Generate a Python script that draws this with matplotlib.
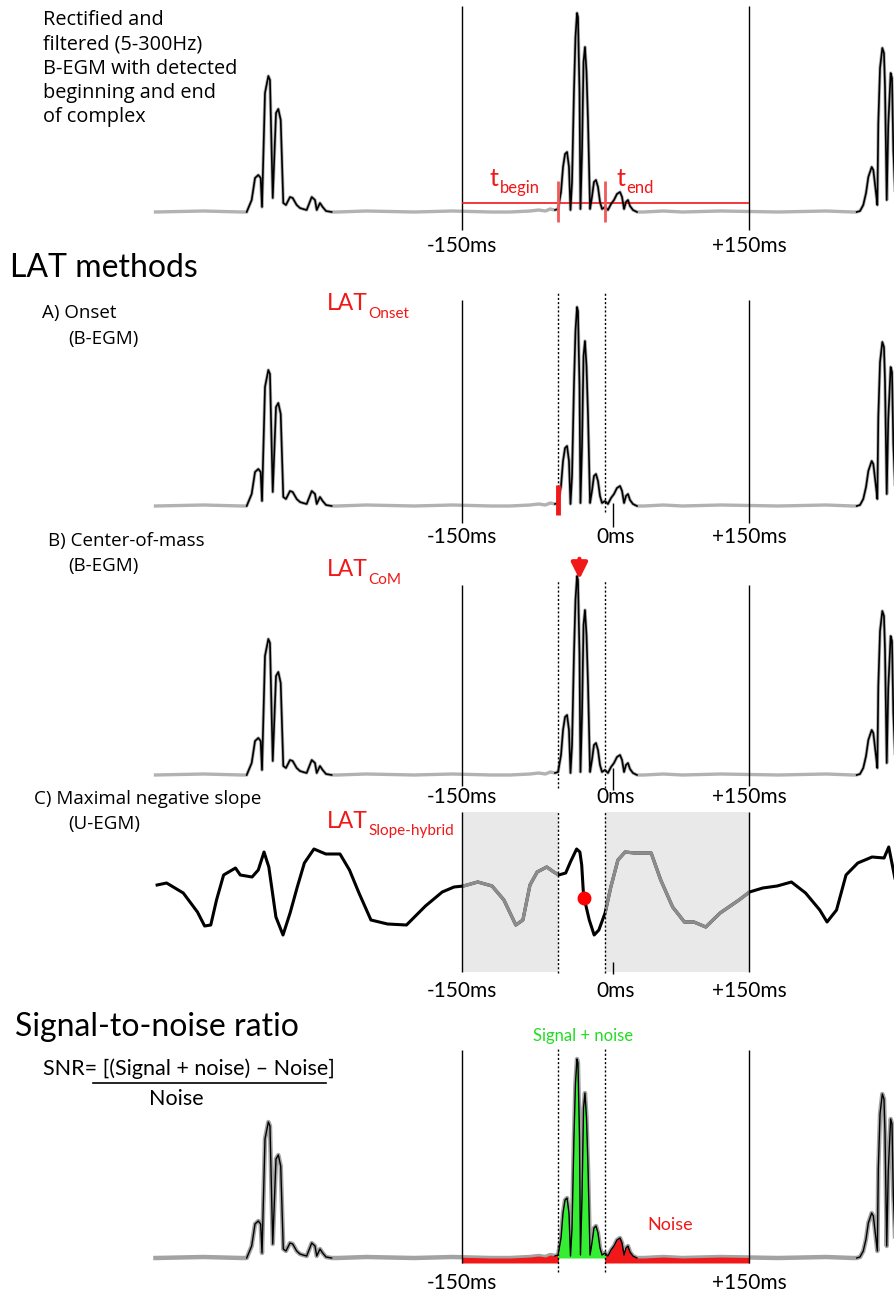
""" LAT methods schematic: B-EGM / U-EGM annotation """
import numpy as np
import matplotlib.pyplot as plt
from matplotlib.lines import Line2D
from matplotlib.patches import Rectangle

W, H = 895, 1297
ZERO_PX = 605.75      # pixel column of t = 0 ms
PX_PER_MS = 0.958

SANS = 'Open Sans'
CAL = 'Lato'
RED = '#f01818'
GREEN = '#22dd22'

# rectified + filtered B-EGM, time in ms, amplitude in a.u.
left_t = [-374.8, -369.6, -366.1, -362.7, -360.2, -358.8, -355.7, -352.2, -350.5,
          -347.6, -344.2, -341.8, -339.3, -336.6, -333.8, -329.6, -326.8, -322.6,
          -319.2, -316.0, -312.2, -306.9, -303.5, -301.7, -298.3, -295.5, -292.0, -286.1]
left_a = [0, 12, 34, 37, 34, 5, 119, 136, 132, 14, 99, 103, 92, 9, 7, 15, 14, 7,
          4, 3, 2, 15, 12, 2, 9, 5, 1, 0]

mid_t = [-53.0, -49.8, -46.7, -44.6, -42.5, -40.4, -38.4, -36.8, -35.2, -33.2, -31.6,
         -30.0, -29.0, -27.4, -26.4, -24.8, -23.2, -21.7, -20.1, -18.5, -16.4, -14.4,
         -12.3, -10.2, -8.1, -6.0, -3.9, -0.8, 2.3, 5.5, 8.6, 11.7, 14.9, 17.0, 19.1,
         21.1, 23.2, 25.3, 28.4, 32.6]
mid_a = [2, 3, 20, 45, 58, 60, 45, 2, 30, 120, 175, 199, 195, 120, 3, 60, 150, 165,
         140, 90, 3, 15, 30, 32, 25, 10, 3, 5, 2, 8, 12, 18, 20, 15, 3, 10, 12, 6, 2, 0]

right_t = [261.9, 265.4, 268.8, 271.7, 274.1, 277.6, 279.3, 282.1, 283.5, 284.5,
           286.3, 288.7, 290.4, 291.5, 293.3, 294.9, 297.4, 298.8, 300.2, 302.0]
right_a = [0, 1, 7, 19, 35, 45, 42, 19, 7, 89, 144, 164, 159, 125, 12, 87, 139,
           134, 62, 20]

quiet_t = [-470, -420, -380, -280, -250, -200, -160, -120, -100, -79, -70, -63, -58,
           40, 60, 80, 120, 180, 230, 258]
quiet_a = [0, 1, 0, 0, 1, 0, 1, 0, 0, 1, 2, 1, 3, 0, 1, 0, 1, 0, 1, 0]

# unipolar EGM, time in ms, voltage in a.u.
uegm_t = [-468.3, -458.4, -441.0, -426.2, -418.7, -412.3, -406.3, -398.9, -386.5,
          -381.5, -369.2, -362.7, -356.7, -351.7, -344.3, -336.9, -329.5, -322.0,
          -314.6, -304.6, -292.2, -277.4, -267.5, -257.6, -245.1, -227.8, -208.0,
          -188.2, -170.7, -158.4, -148.5, -133.6, -118.7, -106.3, -93.9, -86.5,
          -79.1, -71.6, -61.6, -54.2, -49.2, -41.8, -36.9, -30.4, -27.0, -25.1,
          -23.2, -19.9, -17.2, -12.1, -7.2, -0.7, 5.3, 12.7, 20.2, 30.1, 47.4, 57.4,
          69.8, 82.1, 92.0, 104.4, 119.4, 139.1, 150.1, 163.9, 178.9, 193.8, 208.6,
          223.4, 231.0, 240.9, 250.8, 263.1, 278.0, 290.5, 295.4, 301.8]
uegm_v = [2, 4, -6, -25, -39, -38, -13, 12, 19, 12, 10, 17, 35, 20, -30, -48, -26,
          0, 24, 38, 33, 33, 17, -6, -33, -37, -38, -19, -5, 0, 1, 5, 1, -13, -38,
          -33, 2, 15, 20, 15, 12, 14, 25, 38, 35, 22, -8, -22, -33, -48, -43, -26,
          0, 27, 35, 34, 34, 7, -20, -35, -35, -40, -26, -13, -5, -1, 1, 5, -6,
          -23, -35, -23, 12, 24, 30, 29, 40, 9]

window = (-150, 150)      # LAT search window
complex_on_off = (-49.5, -1.0)   # detected beginning / end of complex
zero_tick = 7.5
threshold = 9
com_t = -27.5
slope_t = -22.5

trace_t = np.array(quiet_t + left_t + mid_t + right_t)
trace_a = np.array(quiet_a + left_a + mid_a + right_a, dtype=float)
order = np.argsort(trace_t)
trace_t, trace_a = trace_t[order], trace_a[order]

fig = plt.figure(figsize=(W / 100, H / 100), dpi=100)

canvas = fig.add_axes([0, 0, 1, 1], zorder=5)
canvas.set_xlim(0, W)
canvas.set_ylim(H, 0)
canvas.axis('off')
canvas.patch.set_alpha(0)


def panel(top, bottom, base, scale=1.0):
    ax = fig.add_axes([0, 1 - bottom / H, 1, (bottom - top) / H])
    ax.set_xlim(-ZERO_PX / PX_PER_MS, (W - ZERO_PX) / PX_PER_MS)
    ax.set_ylim((base - bottom) / scale, (base - top) / scale)
    ax.axis('off')
    return ax, (lambda y: (base - y) / scale)


def draw_begm(ax, gray='#b2b2b2', lw=2.4):
    ax.plot(trace_t, trace_a, color=gray, lw=lw, zorder=2)
    for t, a in ((left_t, left_a), (mid_t, mid_a), (right_t, right_a)):
        ax.plot(t, a, color='black', lw=1.2, zorder=4)


def ms_labels(ax, lvl, y, zero=True):
    labels = [(window[0], '-150ms'), (window[1], '+150ms')]
    if zero:
        labels.append((zero_tick + 3, '0ms'))
    for t, s in labels:
        ax.text(t, lvl(y), s, ha='center', va='center', fontsize=15, family=CAL)


def sub_label(x, y, main, sub, color, size=16.5, subsize=11):
    t1 = canvas.text(x, y, main, color=color, fontsize=size, family=CAL, va='center')
    canvas.annotate(sub, xy=(1, 0), xycoords=t1, xytext=(0.5, -4.5),
                    textcoords='offset points', color=color, fontsize=subsize,
                    family=CAL, va='bottom')


def put(x, y, s, **kw):
    kw.setdefault('family', SANS)
    kw.setdefault('fontsize', 13.5)
    kw.setdefault('va', 'center')
    canvas.text(x, y, s, **kw)


# --- rectified B-EGM with detected begin/end
for i, line in enumerate(['Rectified and', 'filtered (5-300Hz)', 'B-EGM with detected',
                          'beginning and end', 'of complex']):
    put(43, 20 + 24.3 * i, line, fontsize=14.3)

ax, lvl = panel(0, 262, 212)
draw_begm(ax)
ax.vlines(window, lvl(230), lvl(6), color='black', lw=1)
ax.hlines(threshold, *window, color=RED, lw=1.2, zorder=3)
ax.vlines(complex_on_off, lvl(222), lvl(181), color='#f05a5a', lw=2, zorder=5)
ms_labels(ax, lvl, 246, zero=False)
sub_label(490, 178, 't', 'begin', RED, size=18, subsize=12)
sub_label(617, 178, 't', 'end', RED, size=18, subsize=12)

put(10, 268, 'LAT methods', family=CAL, fontsize=23)

# --- A) onset
put(42, 313, 'A) Onset')
put(68, 339, '(B-EGM)')
sub_label(327, 304, 'LAT', 'Onset', RED)
ax, lvl = panel(285, 550, 506)
draw_begm(ax)
ax.vlines(window, lvl(523), lvl(300), color='black', lw=1)
ax.vlines(complex_on_off, lvl(512), lvl(293), color='black', lw=1,
          linestyles=(0, (1.5, 1.5)))
ax.vlines(zero_tick, lvl(527), lvl(503), color='black', lw=1)
ax.vlines(complex_on_off[0], lvl(515), lvl(485), color=RED, lw=3.5, zorder=6)
ms_labels(ax, lvl, 537)

# --- B) centre of mass
put(48, 541, 'B) Center-of-mass')
put(68, 566, '(B-EGM)')
sub_label(327, 570, 'LAT', 'CoM', RED)
ax, lvl = panel(550, 805, 775)
draw_begm(ax)
ax.vlines(window, lvl(786), lvl(585), color='black', lw=1)
ax.vlines(complex_on_off, lvl(788), lvl(580), color='black', lw=1,
          linestyles=(0, (1.5, 1.5)))
ax.vlines(zero_tick, lvl(790), lvl(768), color='black', lw=1)
ax.annotate('', xy=(com_t, lvl(582)), xytext=(com_t, lvl(556)),
            arrowprops=dict(arrowstyle='-|>', color=RED, lw=3, mutation_scale=24),
            zorder=6)
ms_labels(ax, lvl, 797)

# --- C) maximal negative slope on the U-EGM
put(34, 799, 'C) Maximal negative slope')
put(68, 824, '(U-EGM)')
sub_label(327, 821, 'LAT', 'Slope-hybrid', RED)
ax, lvl = panel(805, 1005, 887)
spans = [(window[0], complex_on_off[0]), (complex_on_off[1], window[1])]
rects = []
for a, b in spans:
    r = Rectangle((a, lvl(972)), b - a, lvl(812) - lvl(972), color='#e9e9e9', lw=0,
                  zorder=1)
    ax.add_patch(r)
    rects.append(r)
ax.plot(uegm_t, uegm_v, color='black', lw=2.2, zorder=3)
for r in rects:
    seg, = ax.plot(uegm_t, uegm_v, color='#8c8c8c', lw=2.4, zorder=4)
    seg.set_clip_path(r)
ax.vlines(window, lvl(972), lvl(812), color='black', lw=1, zorder=5)
ax.vlines(complex_on_off, lvl(973), lvl(812), color='black', lw=1,
          linestyles=(0, (1.5, 1.5)), zorder=5)
ax.vlines(zero_tick, lvl(974), lvl(962), color='black', lw=1, zorder=5)
ax.plot(slope_t, np.interp(slope_t, uegm_t, uegm_v), 'o', color='red', ms=9,
        zorder=6)
ms_labels(ax, lvl, 991)

# --- signal-to-noise ratio
put(15, 1027, 'Signal-to-noise ratio', family=CAL, fontsize=23)
put(43, 1069, 'SNR= [(Signal + noise) \u2013 Noise]', family=CAL, fontsize=15.5)
canvas.add_line(Line2D([93, 326], [1083, 1083], color='black', lw=1.2))
put(176, 1099, 'Noise', family=CAL, fontsize=15.5, ha='center')
put(583, 1036, 'Signal + noise', family=CAL, fontsize=12, ha='center', color=GREEN)
put(647, 1225, 'Noise', family=CAL, fontsize=13, color=RED)

ax, lvl = panel(1040, 1297, 1258)
ax.plot(trace_t, trace_a, color='#a3a3a3', lw=3.2, zorder=2)
noise_clip = [Rectangle((a, -20), b - a, 300, transform=ax.transData) for a, b in spans]
for r in noise_clip:
    f = ax.fill_between(trace_t, -5, trace_a, color=RED, lw=0, zorder=3)
    f.set_clip_path(r)
sig = ax.fill_between(trace_t, 0, trace_a, color='#33ee33', lw=0, zorder=3)
sig.set_clip_path(Rectangle((complex_on_off[0], -20), complex_on_off[1] - complex_on_off[0],
                            300, transform=ax.transData))
for t, a in ((left_t, left_a), (mid_t, mid_a), (right_t, right_a)):
    ax.plot(t, a, color='black', lw=1.0, zorder=4)
ax.vlines(window, lvl(1263), lvl(1050), color='black', lw=1, zorder=5)
ax.vlines(complex_on_off, lvl(1272), lvl(1048), color='black', lw=1,
          linestyles=(0, (1.5, 1.5)), zorder=5)
ms_labels(ax, lvl, 1283, zero=False)

fig.savefig('out.png', dpi=100)
